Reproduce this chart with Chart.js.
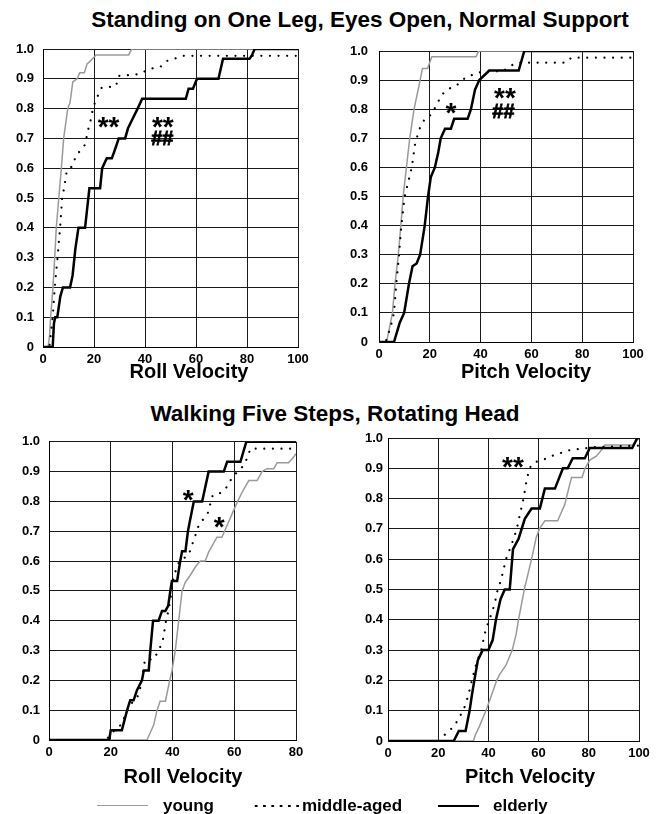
<!DOCTYPE html>
<html>
<head>
<meta charset="utf-8">
<script src="https://cdn.jsdelivr.net/npm/chart.js@4.4.1/dist/chart.umd.min.js"></script>
<style>
  html, body { margin: 0; padding: 0; background: #fff; }
  body { width: 656px; height: 814px; position: relative; overflow: hidden;
         font-family: "Liberation Sans", Arial, sans-serif; font-weight: bold; color: #000; }
  .t { position: absolute; white-space: nowrap; transform: translateX(-50%); }
  .title { font-size: 22.5px; line-height: 22px; }
  .axt { font-size: 20px; line-height: 20px; }
  canvas { position: absolute; }
  .leg { position: absolute; font-size: 17px; line-height: 17px; white-space: nowrap; }
  .sw { position: absolute; }
</style>
</head>
<body>
<div class="t title" style="left:360px; top:9px;">Standing on One Leg, Eyes Open, Normal Support</div>
<div class="t title" style="left:335px; top:403px;">Walking Five Steps, Rotating Head</div>

<canvas id="p1"></canvas>
<canvas id="p2"></canvas>
<canvas id="p3"></canvas>
<canvas id="p4"></canvas>

<div class="t axt" style="left:189px; top:361px;">Roll Velocity</div>
<div class="t axt" style="left:526px; top:361px;">Pitch Velocity</div>
<div class="t axt" style="left:183px; top:766px;">Roll Velocity</div>
<div class="t axt" style="left:530px; top:766px;">Pitch Velocity</div>

<div class="sw" style="left:97px; top:805px; width:51px; border-top:1.5px solid #9a9a9a;"></div>
<div class="leg" style="left:163px; top:797px;">young</div>
<div class="sw" style="left:252px; top:804px; width:50px; height:4px;
     background: radial-gradient(circle, #000 1.1px, transparent 1.5px) 0 0 / 8.3px 4px repeat-x;"></div>
<div class="leg" style="left:302px; top:797px;">middle-aged</div>
<div class="sw" style="left:438px; top:805px; width:41px; border-top:2.5px solid #000;"></div>
<div class="leg" style="left:493px; top:797px;">elderly</div>

<script>
// Cumulative fraction of subjects vs. sway velocity, [velocity, fraction]
const standRollYoung = [[0,0],[2,0],[2.6,0.04],[3,0.1],[3.9,0.2],[4.6,0.3],[5.2,0.4],[6.2,0.5],[7.2,0.6],[8.1,0.7],[9.7,0.8],[10.6,0.82],[11.7,0.89],[13.4,0.9],[14.4,0.92],[16.2,0.92],[17.3,0.95],[18.6,0.96],[20.8,0.98],[33.6,0.98],[34.8,1],[100,1]];
const standRollMiddle = [[0,0],[2.5,0],[3.2,0.05],[3.8,0.1],[4.6,0.2],[5.7,0.3],[6.7,0.4],[7.5,0.5],[8.2,0.53],[9.3,0.59],[11.8,0.61],[12.8,0.64],[16.6,0.68],[17.4,0.72],[18.4,0.75],[19.6,0.8],[20.8,0.83],[23,0.87],[28.6,0.875],[29.8,0.91],[37,0.915],[42.8,0.935],[46,0.94],[48.6,0.96],[52.5,0.97],[55,0.977],[100,0.977]];
const standRollElderly = [[0,0],[3.8,0],[4.3,0.08],[4.8,0.1],[5.6,0.1],[6.8,0.17],[7.8,0.2],[10.6,0.2],[11.6,0.24],[12.7,0.33],[13.9,0.4],[16.5,0.4],[18.2,0.533],[22.4,0.533],[23.2,0.6],[25,0.633],[27,0.633],[28.4,0.667],[29.7,0.7],[32.2,0.7],[33.3,0.733],[35.2,0.767],[37.1,0.8],[38.9,0.833],[56,0.833],[57.1,0.867],[58.8,0.867],[60.4,0.9],[68.8,0.9],[70.6,0.967],[81,0.967],[82,0.98],[83,1],[100,1]];

const standPitchYoung = [[0,0],[3,0],[5.3,0.1],[6.3,0.2],[7.6,0.3],[8.6,0.4],[9.5,0.5],[10.8,0.6],[12.1,0.7],[13.8,0.8],[16.2,0.9],[17.1,0.94],[19.1,0.94],[20.8,0.98],[38.2,0.98],[39.2,1],[100,1]];
const standPitchMiddle = [[0,0],[2.6,0],[4.5,0.05],[5.9,0.1],[6.8,0.2],[7.9,0.3],[8.8,0.4],[10.1,0.5],[11.5,0.55],[12.9,0.6],[14.2,0.68],[15.8,0.73],[18.2,0.77],[20.4,0.78],[22.4,0.81],[24.7,0.85],[27.4,0.87],[30.3,0.88],[34.2,0.91],[37.5,0.92],[40.8,0.93],[48.7,0.93],[52,0.95],[54.6,0.96],[73.7,0.96],[75.7,0.977],[100,0.977]];
const standPitchElderly = [[0,0],[5.9,0],[8.2,0.067],[9.9,0.1],[11.8,0.2],[13.2,0.26],[14.8,0.27],[16.2,0.3],[18,0.4],[19.3,0.5],[20.4,0.567],[22,0.6],[23.3,0.65],[24.3,0.7],[26,0.733],[28.3,0.733],[29.6,0.767],[34.9,0.767],[36.2,0.8],[37.8,0.867],[39.5,0.9],[43.4,0.933],[55,0.933],[57.2,1],[100,1]];

const walkRollYoung = [[0,0],[31.7,0],[32.6,0.02],[33.9,0.05],[35,0.1],[36,0.13],[37.7,0.13],[39.1,0.2],[39.8,0.23],[40.9,0.3],[42,0.4],[43.1,0.5],[44.2,0.53],[45.6,0.55],[47.4,0.58],[49,0.6],[50.6,0.6],[51.7,0.63],[54.4,0.68],[56,0.68],[57.7,0.72],[59.8,0.77],[61.1,0.8],[62.5,0.83],[64.7,0.87],[67.4,0.87],[69,0.9],[70.6,0.91],[72.8,0.91],[73.9,0.93],[77.6,0.93],[79.3,0.95],[80,0.96]];
const walkRollMiddle = [[0,0],[18.6,0],[19.9,0.02],[23.2,0.05],[25.5,0.1],[27.2,0.13],[29,0.15],[30.1,0.2],[30.7,0.25],[31.2,0.27],[33.9,0.27],[35.5,0.3],[36.8,0.33],[37.9,0.4],[38.6,0.43],[39.3,0.47],[40.4,0.55],[41.5,0.58],[42.2,0.6],[45.2,0.62],[47.2,0.68],[48.5,0.72],[51.4,0.76],[52.2,0.79],[53,0.82],[56,0.83],[57.7,0.85],[59.3,0.88],[61.1,0.9],[63,0.92],[64.4,0.95],[65.2,0.977],[80,0.977]];
const walkRollElderly = [[0,0],[19.5,0],[20,0.033],[23.6,0.033],[25.3,0.1],[26.3,0.133],[27.4,0.133],[28.5,0.167],[30.1,0.2],[30.7,0.233],[32.3,0.233],[32.8,0.3],[33.7,0.4],[35.5,0.4],[36.6,0.433],[37.7,0.433],[38.6,0.45],[39.3,0.5],[39.8,0.533],[41.5,0.533],[42.5,0.6],[43.1,0.633],[44.2,0.633],[45,0.7],[45.6,0.733],[46.9,0.8],[49.6,0.8],[51.7,0.9],[56.6,0.9],[57.7,0.933],[62,0.933],[63.9,1],[80,1]];

const walkPitchYoung = [[0,0],[34,0],[34.8,0.02],[36.5,0.05],[39,0.1],[41.2,0.15],[43.3,0.2],[44.5,0.22],[47,0.25],[49.5,0.3],[51,0.35],[52,0.4],[54.3,0.5],[57.2,0.6],[59,0.67],[60.3,0.7],[62.5,0.727],[67.6,0.727],[70.4,0.78],[73.1,0.87],[77.3,0.87],[78.5,0.9],[80.4,0.927],[83,0.94],[85,0.96],[86.4,0.977],[97.5,0.977],[100,1]];
const walkPitchMiddle = [[0,0],[21,0],[22.5,0.02],[26.5,0.05],[28.5,0.08],[30,0.1],[32,0.15],[33.4,0.2],[35,0.25],[37.1,0.3],[39,0.37],[40.4,0.4],[42.4,0.45],[43.7,0.5],[45,0.53],[47,0.6],[49.3,0.65],[51.3,0.7],[52.6,0.75],[54,0.8],[55,0.85],[56.3,0.9],[58.3,0.92],[61,0.925],[65,0.94],[72.4,0.96],[82,0.97],[100,0.975]];
const walkPitchElderly = [[0,0],[26.2,0],[28.2,0.033],[30.9,0.033],[32.5,0.1],[33.4,0.15],[34.4,0.2],[35.8,0.267],[37.7,0.3],[40,0.3],[41.7,0.333],[43,0.4],[44.8,0.467],[46.5,0.5],[48.5,0.5],[49.8,0.633],[52,0.667],[54.5,0.733],[57.2,0.767],[60.5,0.767],[62.5,0.833],[66.5,0.833],[69.7,0.9],[71.6,0.9],[73.6,0.933],[78.4,0.933],[80.4,0.967],[97.3,0.967],[99.3,1],[100,1]];

// Significance markers: [text, velocity, fraction]
const standRollMarks = [['**', 25.7, 0.76], ['**', 47, 0.763], ['##', 46.8, 0.703]];
const standPitchMarks = [['*', 28.3, 0.81], ['**', 49.6, 0.862], ['##', 49, 0.794]];
const walkRollMarks = [['*', 45.1, 0.829], ['*', 55.1, 0.738]];
const walkPitchMarks = [['**', 49.8, 0.928]];

const yTicks = [0, 0.1, 0.2, 0.3, 0.4, 0.5, 0.6, 0.7, 0.8, 0.9, 1.0];

const FONT = '"Liberation Sans", Arial, Helvetica, sans-serif';

const markPlugin = {
  id: 'marks',
  afterDatasetsDraw(chart, args, opts) {
    const { ctx, scales: { x, y } } = chart;
    ctx.save();
    ctx.fillStyle = '#000';
    ctx.strokeStyle = '#000';
    ctx.textAlign = 'center';
    ctx.textBaseline = 'alphabetic';
    for (const [text, vx, vy] of opts.items) {
      const star = text.includes('*');
      const size = star ? 28 : 20;
      ctx.font = `bold ${size}px ${FONT}`;
      const px = x.getPixelForValue(vx);
      const py = y.getPixelForValue(vy) + (star ? 0.57 : 0.36) * size;
      ctx.fillText(text, px, py);
      if (!star) { ctx.lineWidth = 0.8; ctx.strokeText(text, px, py); }
    }
    ctx.restore();
  }
};

const toXY = arr => arr.map(([x, y]) => ({ x, y }));

function panel(id, box, area, xMax, young, middle, elderly, marks, yPad) {
  const cv = document.getElementById(id);
  cv.width = box.w; cv.height = box.h;
  cv.style.left = box.x + 'px'; cv.style.top = box.y + 'px';
  const tickFont = { family: FONT, size: 13, weight: 'bold' };
  return new Chart(cv, {
    type: 'line',
    data: {
      datasets: [
        { label: 'elderly', data: toXY(elderly), borderColor: '#000', borderWidth: 2.5 },
        { label: 'middle-aged', data: toXY(middle), borderColor: '#000', borderWidth: 2.2,
          borderDash: [0.01, 8.6], borderCapStyle: 'round' },
        { label: 'young', data: toXY(young), borderColor: '#9a9a9a', borderWidth: 1.5 }
      ]
    },
    plugins: [markPlugin],
    options: {
      responsive: false, animation: false, devicePixelRatio: 1,
      parsing: false,
      layout: { padding: { left: 0, top: area.t - box.y, right: box.x + box.w - area.r, bottom: 0 } },
      elements: { point: { radius: 0 }, line: { tension: 0, fill: false } },
      plugins: { legend: { display: false }, tooltip: { enabled: false }, marks: { items: marks } },
      scales: {
        x: {
          type: 'linear', min: 0, max: xMax,
          afterFit: s => { s.height = box.y + box.h - area.b; },
          ticks: { stepSize: 20, padding: 5, color: '#000', font: tickFont, maxRotation: 0, autoSkip: false },
          grid: { color: '#1a1a1a', lineWidth: 1, drawTicks: false },
          border: { color: '#000', width: 1 }
        },
        y: {
          type: 'linear', min: 0, max: 1,
          afterFit: s => { s.width = area.l - box.x; },
          afterBuildTicks: s => { s.ticks = yTicks.map(v => ({ value: v })); },
          ticks: { padding: yPad, color: '#000', font: tickFont, autoSkip: false,
                   callback: v => (v === 0 ? '0' : v.toFixed(1)) },
          grid: { color: '#1a1a1a', lineWidth: 1, drawTicks: false },
          border: { color: '#000', width: 1 }
        }
      }
    }
  });
}

panel('p1', { x: 0, y: 30, w: 328, h: 345 }, { l: 43, t: 49, r: 298, b: 347 }, 100,
      standRollYoung, standRollMiddle, standRollElderly, standRollMarks, 9);
panel('p2', { x: 330, y: 30, w: 326, h: 345 }, { l: 379, t: 51, r: 633, b: 342 }, 100,
      standPitchYoung, standPitchMiddle, standPitchElderly, standPitchMarks, 11);
panel('p3', { x: 0, y: 425, w: 328, h: 345 }, { l: 49, t: 439, r: 296, b: 740 }, 80,
      walkRollYoung, walkRollMiddle, walkRollElderly, walkRollMarks, 9);
panel('p4', { x: 330, y: 425, w: 326, h: 345 }, { l: 388, t: 438, r: 639, b: 741 }, 100,
      walkPitchYoung, walkPitchMiddle, walkPitchElderly, walkPitchMarks, 5);
</script>
</body>
</html>
